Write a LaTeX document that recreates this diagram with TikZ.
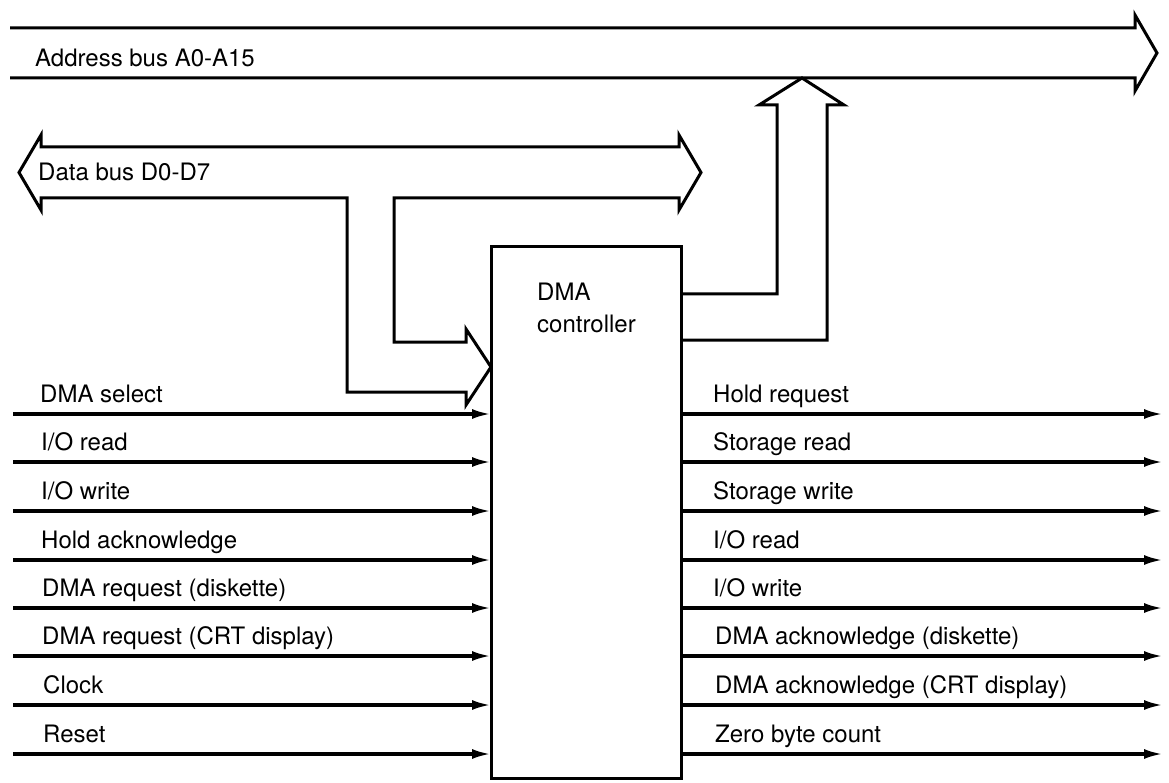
\documentclass[tikz,border=0pt]{standalone}
\usepackage{fontspec}
\setmainfont{TeX Gyre Heros}
\usetikzlibrary{arrows.meta}
\begin{document}
\begin{tikzpicture}[x=1pt,y=-1pt,line join=miter,
  bus/.style={line width=3pt},
  sig/.style={line width=3.2pt,-{Latex[length=19pt,width=10pt]}},
  lbl/.style={anchor=base west,inner sep=0pt,font=\fontsize{24}{28}\selectfont},
  box/.style={draw,line width=3pt,inner sep=0pt,outer sep=0pt,anchor=north west}]
\useasboundingbox (0,0) rectangle (1169,783);

% DMA controller box
\node[box,minimum width=190pt,minimum height=531pt] (dma) at (491,247) {};
\node[lbl] (dmat1) at (537,301) {DMA};
\node[lbl] (dmat2) at (537,332) {controller};

% Address bus
\draw[bus] (10,28) -- (1135,28) -- (1135,15) -- (1157,53) -- (1135,91) -- (1135,78) -- (10,78);
\node[lbl] (abus) at (35,67) {Address bus A0-A15};

% Data bus with branch into the controller
\draw[bus] (41,198) -- (41,210) -- (19,172.5) -- (41,135) -- (41,147) -- (679,147)
  -- (679,135) -- (701,172.5) -- (679,210) -- (679,198) -- (394,198) -- (394,342)
  -- (466,342) -- (466,329) -- (dma.west |- 0,367) -- (466,405) -- (466,392)
  -- (347,392) -- (347,198) -- cycle;
\node[lbl] (dbus) at (38,181) {Data bus D0-D7};

% Address branch from the controller up to the address bus
\draw[bus] (dma.east |- 0,294) -- (777,294) -- (777,105) -- (759,105) -- (802,78)
  -- (844,105) -- (827,105) -- (827,340) -- (dma.east |- 0,340);

% Inputs
\coordinate (ls1) at (13,414);
\coordinate (ls2) at (13,462);
\coordinate (ls3) at (13,511);
\coordinate (ls4) at (13,560);
\coordinate (ls5) at (13,608);
\coordinate (ls6) at (13,656);
\coordinate (ls7) at (13,705);
\coordinate (ls8) at (13,754);
\draw[sig] (ls1) -- (ls1 -| dma.west);
\draw[sig] (ls2) -- (ls2 -| dma.west);
\draw[sig] (ls3) -- (ls3 -| dma.west);
\draw[sig] (ls4) -- (ls4 -| dma.west);
\draw[sig] (ls5) -- (ls5 -| dma.west);
\draw[sig] (ls6) -- (ls6 -| dma.west);
\draw[sig] (ls7) -- (ls7 -| dma.west);
\draw[sig] (ls8) -- (ls8 -| dma.west);
\node[lbl] (lt1) at (40,402) {DMA select};
\node[lbl] (lt2) at (41,450) {I/O read};
\node[lbl] (lt3) at (41,499) {I/O write};
\node[lbl] (lt4) at (41,548) {Hold acknowledge};
\node[lbl] (lt5) at (42,596) {DMA request (diskette)};
\node[lbl] (lt6) at (42,644) {DMA request (CRT display)};
\node[lbl] (lt7) at (43,693) {Clock};
\node[lbl] (lt8) at (43,742) {Reset};

% Outputs
\coordinate (rs1) at (1163,414);
\coordinate (rs2) at (1163,462);
\coordinate (rs3) at (1163,511);
\coordinate (rs4) at (1163,560);
\coordinate (rs5) at (1163,608);
\coordinate (rs6) at (1163,656);
\coordinate (rs7) at (1163,705);
\coordinate (rs8) at (1163,754);
\draw[sig] (rs1 -| dma.east) -- (rs1);
\draw[sig] (rs2 -| dma.east) -- (rs2);
\draw[sig] (rs3 -| dma.east) -- (rs3);
\draw[sig] (rs4 -| dma.east) -- (rs4);
\draw[sig] (rs5 -| dma.east) -- (rs5);
\draw[sig] (rs6 -| dma.east) -- (rs6);
\draw[sig] (rs7 -| dma.east) -- (rs7);
\draw[sig] (rs8 -| dma.east) -- (rs8);
\node[lbl] (rt1) at (713,402) {Hold request};
\node[lbl] (rt2) at (713,450) {Storage read};
\node[lbl] (rt3) at (713,499) {Storage write};
\node[lbl] (rt4) at (713,548) {I/O read};
\node[lbl] (rt5) at (713,596) {I/O write};
\node[lbl] (rt6) at (715,644) {DMA acknowledge (diskette)};
\node[lbl] (rt7) at (715,693) {DMA acknowledge (CRT display)};
\node[lbl] (rt8) at (715,742) {Zero byte count};
\end{tikzpicture}
\end{document}
